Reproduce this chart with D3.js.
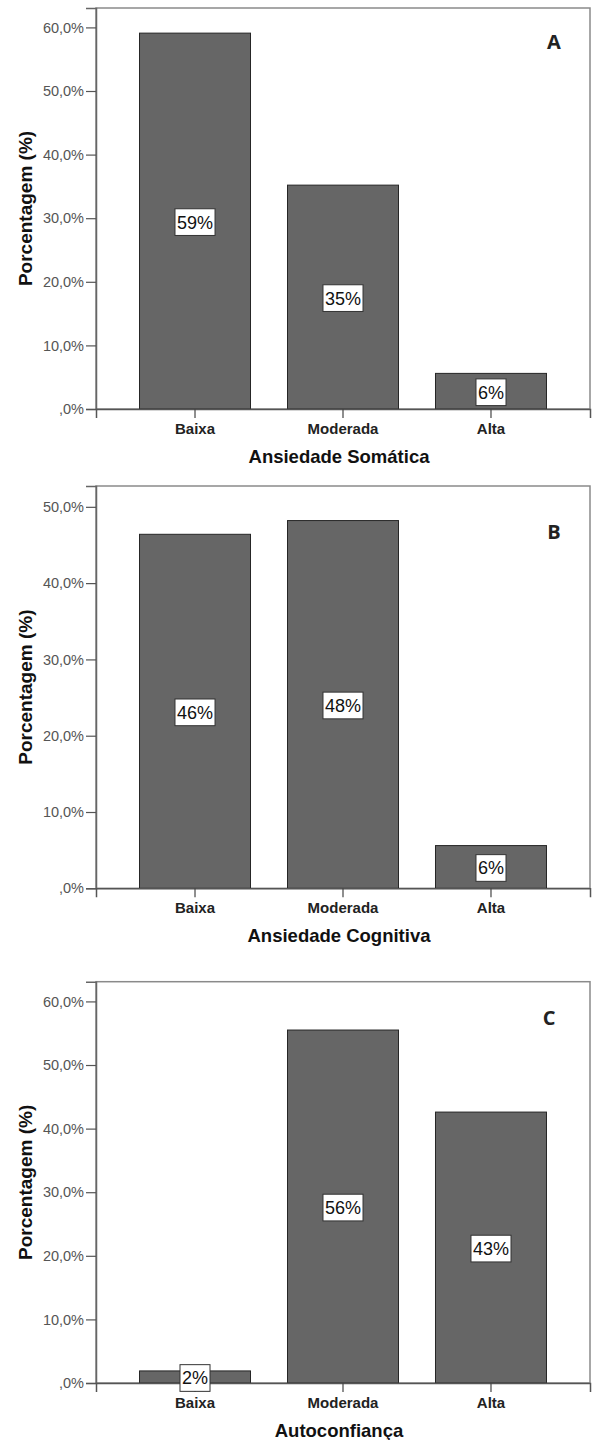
<!DOCTYPE html>
<html>
<head>
<meta charset="utf-8">
<script src="https://cdn.jsdelivr.net/npm/d3@7"></script>
<style>
  html, body { margin: 0; padding: 0; background: #fff; }
  svg { display: block; }
</style>
</head>
<body>
<svg id="chart" width="592" height="1440"></svg>
<script>
// ---- data ----
const categories = ["Baixa", "Moderada", "Alta"];
const somaticaValues = [59.1, 35.2, 5.6];
const cognitivaValues = [46.4, 48.2, 5.6];
const autoconfiancaValues = [1.9, 55.5, 42.6];
const ticksA = [0, 10, 20, 30, 40, 50, 60];
const ticksB = [0, 10, 20, 30, 40, 50];
const ticksC = [0, 10, 20, 30, 40, 50, 60];
const panelTitles = ["Ansiedade Somática", "Ansiedade Cognitiva", "Autoconfiança"];
const panelLetters = ["A", "B", "C"];
const yAxisTitle = "Porcentagem (%)";

// ---- layout ----
const panels = [
  { values: somaticaValues, ticks: ticksA, top: 8,     zero: 409,    yMax: 63.05, letterX: 554, letterY: 49,   title: panelTitles[0], letter: panelLetters[0] },
  { values: cognitivaValues, ticks: ticksB, top: 486,  zero: 888.3,  yMax: 52.73, letterX: 554, letterY: 539,  title: panelTitles[1], letter: panelLetters[1] },
  { values: autoconfiancaValues, ticks: ticksC, top: 981.7, zero: 1383, yMax: 63.1, letterX: 549, letterY: 1025, title: panelTitles[2], letter: panelLetters[2] }
];
const left = 96, right = 590;
const font = "'Liberation Sans', Arial, sans-serif";

const svg = d3.select("#chart");

const x = d3.scaleBand().domain(categories).range([left, right])
  .paddingInner(0.25).paddingOuter(0.294);

const fmt = d => d === 0 ? ",0%" : d + ",0%";

panels.forEach(p => {
  const g = svg.append("g");
  const y = d3.scaleLinear().domain([0, p.yMax]).range([p.zero, p.top]);
  const data = categories.map((c, i) => ({ cat: c, v: p.values[i] }));

  // frame
  g.append("rect")
    .attr("x", left).attr("y", p.top)
    .attr("width", right - left).attr("height", p.zero - p.top)
    .attr("fill", "#fff").attr("stroke", "#8a8a8a").attr("stroke-width", 1.5);

  // bars
  g.selectAll("rect.bar").data(data).enter().append("rect")
    .attr("class", "bar")
    .attr("x", d => x(d.cat))
    .attr("y", d => y(d.v))
    .attr("width", x.bandwidth())
    .attr("height", d => y(0) - y(d.v))
    .attr("fill", "#666666")
    .attr("stroke", "#262626")
    .attr("stroke-width", 1);

  // y axis
  const yAxis = d3.axisLeft(y).tickValues(p.ticks).tickFormat(fmt).tickSize(10).tickPadding(2);
  const ya = g.append("g").attr("transform", `translate(${left},0)`).call(yAxis);
  ya.select(".domain").attr("stroke", "#666").attr("stroke-width", 1.5);
  ya.selectAll(".tick line").attr("stroke", "#555").attr("stroke-width", 1.2);
  ya.selectAll(".tick text").attr("fill", "#555").style("font-family", font).style("font-size", "14.5px");

  // x axis
  const xAxis = d3.axisBottom(x).tickSize(9).tickPadding(4);
  const xa = g.append("g").attr("transform", `translate(0,${p.zero})`).call(xAxis);
  xa.select(".domain").attr("stroke", "#555").attr("stroke-width", 1.5);
  xa.selectAll(".tick line").attr("stroke", "#444").attr("stroke-width", 1.2);
  xa.selectAll(".tick text").attr("fill", "#222").style("font-family", font)
    .style("font-size", "15px").style("font-weight", "bold")
    .attr("y", 14).attr("dy", "0.71em");

  // x title
  g.append("text")
    .attr("x", (left + right) / 2 - 4).attr("y", p.zero + 54)
    .attr("text-anchor", "middle")
    .style("font-family", font).style("font-size", "18.5px").style("font-weight", "bold")
    .attr("fill", "#111")
    .text(p.title);

  // y title
  const cy = (p.top + p.zero) / 2;
  g.append("text")
    .attr("transform", `translate(32,${cy}) rotate(-90)`)
    .attr("text-anchor", "middle")
    .style("font-family", font).style("font-size", "19px").style("font-weight", "bold")
    .attr("fill", "#111")
    .text(yAxisTitle);

  // panel letter
  g.append("text")
    .attr("x", p.letterX).attr("y", p.letterY)
    .attr("text-anchor", "middle")
    .style("font-family", "'Open Sans', 'Noto Sans', sans-serif").style("font-size", "20px").style("font-weight", "bold")
    .attr("fill", "#222")
    .text(p.letter);

  // value labels
  data.forEach(d => {
    const cx = x(d.cat) + x.bandwidth() / 2;
    const my = (y(d.v) + y(0)) / 2 + 1;
    const lg = g.append("g");
    const box = lg.append("rect").attr("fill", "#fff").attr("stroke", "#333").attr("stroke-width", 1);
    const t = lg.append("text")
      .attr("x", cx).attr("y", my).attr("dy", "0.36em")
      .attr("text-anchor", "middle")
      .style("font-family", font).style("font-size", "18px")
      .attr("fill", "#111")
      .text(Math.round(d.v) + "%");
    const w = t.node().getComputedTextLength() + 4;
    box.attr("x", cx - w / 2).attr("y", my - 13.3).attr("width", w).attr("height", 26.7);
  });
});
</script>
</body>
</html>
